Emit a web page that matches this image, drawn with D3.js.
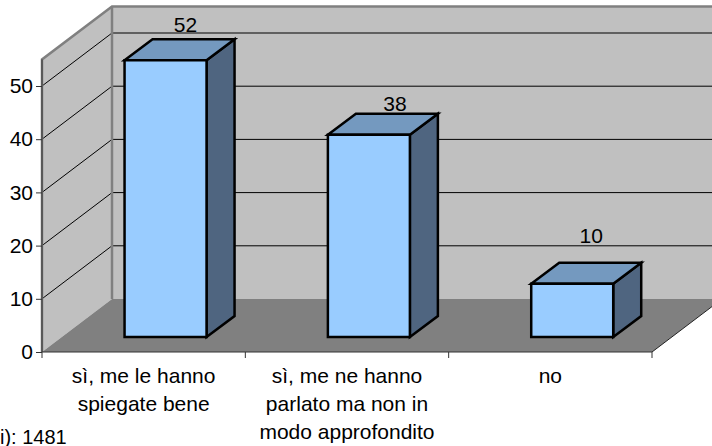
<!DOCTYPE html>
<html><head><meta charset="utf-8">
<script src="https://cdn.jsdelivr.net/npm/d3@7"></script>
<style>html,body{margin:0;padding:0;background:#fff;overflow:hidden}svg{display:block}text{font-family:"Liberation Sans",Arial,sans-serif;fill:#000}</style>
</head><body><svg id="c" width="712" height="446"></svg>
<script>
const categories = [["sì, me le hanno","spiegate bene"],["sì, me ne hanno","parlato ma non in","modo approfondito"],["no"]];
const values = [52,38,10];
const yTicks = [0,10,20,30,40,50];
const footnote = "i): 1481";

const FS = 21;
const dx = 70, dy = -53;          // wall depth
const bdx = 28, bdy = -21;        // bar depth
const barFrontOffset = {x:12, y:-15};
const labelRaise = [6, 2, 19];
const labelShift = [61, 67, 60];
const svg = d3.select("#c");
const x = d3.scaleBand().domain(d3.range(values.length)).range([42,652]).paddingInner(0).paddingOuter(0);
const y = d3.scaleLinear().domain([0,55]).range([352,59.4]);
const poly = (pts,fill,stroke,sw)=>svg.append("polygon").attr("points",pts.map(p=>p.join(",")).join(" "))
  .attr("fill",fill).attr("stroke",stroke||"none").attr("stroke-width",sw||0).attr("stroke-linejoin","miter");
const [x0,x1]=x.range(), y0=y(0), yT=y(55);
// walls
poly([[x0,y0],[x0+dx,y0+dy],[x0+dx,yT+dy],[x0,yT]],"#c0c0c0");
poly([[x0+dx,y0+dy],[740,y0+dy],[740,yT+dy],[x0+dx,yT+dy]],"#c0c0c0");
// gridlines
yTicks.slice(1).forEach(t=>{
  svg.append("path").attr("d",`M${x0},${y(t)}L${x0+dx},${y(t)+dy}L740,${y(t)+dy}`).attr("fill","none").attr("stroke","#000").attr("stroke-width",1);
});
// wall edges
svg.append("path").attr("d",`M${x0},${y0}L${x0},${yT}L${x0+dx},${yT+dy}L740,${yT+dy}M${x0+dx},${yT+dy}L${x0+dx},${y0+dy}`)
  .attr("fill","none").attr("stroke","#808080").attr("stroke-width",2.5);
// floor
poly([[x0,y0],[x1,y0],[x1+dx,y0+dy],[x0+dx,y0+dy]],"#808080");
svg.append("line").attr("x1",x1).attr("y1",y0).attr("x2",x1+dx).attr("y2",y0+dy).attr("stroke","#222").attr("stroke-width",1);
// bars
const W = 82;
values.forEach((v,i)=>{
  const l = x(i)+x.bandwidth()*0.406, r=l+W, b=y0+barFrontOffset.y, t=b-(y(0)-y(v));
  poly([[r,b],[r+bdx,b+bdy],[r+bdx,t+bdy],[r,t]],"#4f6580","#000",2.5);
  poly([[l,t],[r,t],[r+bdx,t+bdy],[l+bdx,t+bdy]],"#7499bf","#000",2.5);
  poly([[l,b],[r,b],[r,t],[l,t]],"#99ccff","#000",2.5);
  svg.append("text").attr("x",l+labelShift[i]).attr("y",t+bdy-labelRaise[i]-1).attr("text-anchor","middle").attr("font-size",FS).text(v);
});
// axes
svg.append("path").attr("d",`M${x0},${yT}L${x0},${y0}L${x1},${y0}`).attr("fill","none").attr("stroke","#333").attr("stroke-width",1);
const yAxis = svg.append("g").attr("transform",`translate(${x0},0)`).call(d3.axisLeft(y).tickValues(yTicks).tickSize(6).tickPadding(3));
yAxis.select(".domain").remove();
yAxis.selectAll("line").attr("stroke","#333");
yAxis.selectAll("text").attr("font-size",FS).attr("font-family",'"Liberation Sans",Arial,sans-serif');
[0,1,2,3].forEach(i=>{
  const px = x0+i*x.step();
  svg.append("line").attr("x1",px).attr("x2",px).attr("y1",y0).attr("y2",y0+6).attr("stroke","#333");
});
// category labels
categories.forEach((lines,i)=>{
  const t = svg.append("text").attr("text-anchor","middle").attr("font-size",FS);
  lines.forEach((s,j)=>t.append("tspan").attr("x",x(i)+x.bandwidth()/2).attr("y",383+j*28).text(s));
});
svg.append("text").attr("x",0).attr("y",444).attr("font-size",20).text(footnote);
</script></body></html>
